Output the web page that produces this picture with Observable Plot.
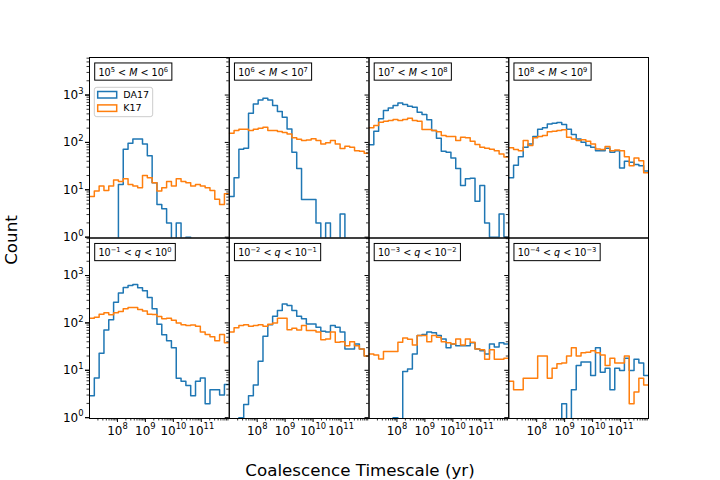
<!DOCTYPE html>
<html><head><meta charset="utf-8">
<script src="https://cdn.jsdelivr.net/npm/d3@7"></script>
<script src="https://cdn.jsdelivr.net/npm/@observablehq/plot@0.6"></script>
<style>
html,body{margin:0;padding:0;background:#fff;}
#chart{width:720px;height:480px;position:relative;}
</style></head><body><div id="chart"></div>
<script>
// ---- data ----
const panelLabels = ["10⁵ < M < 10⁶","10⁶ < M < 10⁷","10⁷ < M < 10⁸","10⁸ < M < 10⁹",
                     "10⁻¹ < q < 10⁰","10⁻² < q < 10⁻¹","10⁻³ < q < 10⁻²","10⁻⁴ < q < 10⁻³"];
const seriesNames = ["DA17","K17"];
const seriesColors = ["#1f77b4","#ff7f0e"];
const xLabel = "Coalescence Timescale (yr)";
const yLabel = "Count";
const yMajor = [1,10,100,1000];
const xMajor = [1e8,1e9,1e10,1e11];
const yMinor = [2,3,4,5,6,7,8,9,20,30,40,50,60,70,80,90,200,300,400,500,600,700,800,900,2000,3000,4000,5000,6000];
const xMinor = [2e7,3e7,4e7,5e7,6e7,7e7,8e7,9e7,2e8,3e8,4e8,5e8,6e8,7e8,8e8,9e8,2e9,3e9,4e9,5e9,6e9,7e9,8e9,9e9,
                2e10,3e10,4e10,5e10,6e10,7e10,8e10,9e10,2e11,3e11,4e11,5e11,6e11,7e11,8e11,9e11];
const logMin = 7, logMax = 12, nBins = 29;

// DA17 counts per bin
const da17_M5 = [0,0,0,0,0,0,13,72,96,118,118,93,52,14,4.9,4,2,0,2,0,1,0,0,0,0,0,0,0,0];
const da17_M6 = [7.2,18,72,75,413,650,790,855,790,600,450,340,193,62,28,6.2,6.2,6.2,2,0,2,0,0,3.1,0,0,0,0,0];
const da17_M7 = [89,172,315,470,535,600,680,630,580,550,433,388,300,178,122,65,62,47,28,12.3,17,17.6,5.7,12.3,2,1,1,3.1,1];
const da17_M8 = [18,33,50,79,93,133,190,203,246,254,263,238,190,147,118,101,86,79,67,67,75,62,67,29,40,38,34,32,25];
const da17_q1 = [2.9,6.9,23,71,116,274,430,557,615,645,550,475,343,198,94,56,42,30,6.8,5.9,4.8,2.9,5.9,6.9,1.96,3.9,3.9,3.0,5];
const da17_q2 = [0,0,1,1.9,2.9,4.9,15.6,52,91,138,182,252,233,182,138,122,95,95,81,67,64,88,81,64,28,28,36,28,20];
const da17_q3 = [0,0,0,0,0,1,0,9.4,10.7,22,54,57,64,62,54,46,30,36,33,33,33,38,28,26,22,36,31,38,36];
const da17_q4 = [0,0,0,0,0,0,0,0,0,0,0,1.96,0,3.9,12.6,14.9,14.9,7.8,30,9.1,11,3.9,11,9.9,18,9.9,17,14.3,7.8];
// K17 counts per bin
const k17_M5 = [7.2,9.4,12,9.7,12,16,15,17,13,12,11,20,18,14,9.4,11,15,12,17,15,14,12,13,12,11,9.7,6.3,4.9,8.2];
const k17_M6 = [156,178,190,190,178,190,200,209,178,178,170,161,151,125,117,110,113,119,110,93,98,110,93,74,83,79,67,65,59];
const k17_M7 = [203,227,268,280,290,303,290,303,324,290,280,187,187,178,167,140,133,133,110,129,125,106,90,79,75,72,67,57,49];
const k17_M8 = [77,71,67,110,86,125,133,140,167,172,178,184,129,118,110,114,106,93,73,71,82,67,69,67,50,32,47,41,23];
const k17_q1 = [126,132,152,163,148,163,174,198,211,211,191,179,152,150,136,122,126,114,100,92,88,90,85,64,57,51,42,57,38];
const k17_q2 = [64,79,88,91,85,88,91,85,94,100,126,126,72,77,71,88,69,69,64,44,46,64,39,40,33,40,33,28,20];
const k17_q3 = [22,21,17.4,25,25,25,39,48,45,34,54,54,40,54,50,40,38,36,46,34,46,39,28,27,17,27,17,17,18];
const k17_q4 = [5.9,3.9,3.9,6.8,6.8,6.8,20,20,6.8,11,13.7,14.3,20,30,20,23.4,24,26,23.4,21,12.6,18,14.3,14.3,20,1.96,3.5,6.8,4.9];

const da17 = [da17_M5,da17_M6,da17_M7,da17_M8,da17_q1,da17_q2,da17_q3,da17_q4];
const k17 = [k17_M5,k17_M6,k17_M7,k17_M8,k17_q1,k17_q2,k17_q3,k17_q4];

// ---- build table ----
const edges = d3.range(nBins + 1).map(k => Math.pow(10, logMin + (logMax - logMin) * k / nBins));
const FLOOR = 0.3; // empty bins drop below the axis
const rows = [];
[da17, k17].forEach((set, si) => set.forEach((vals, p) => {
  const col = p % 4, row = Math.floor(p / 4);
  vals.forEach((v, k) => rows.push({series: seriesNames[si], col, row, x: edges[k], y: v > 0 ? v : FLOOR}));
  const last = vals[vals.length - 1];
  rows.push({series: seriesNames[si], col, row, x: edges[vals.length], y: last > 0 ? last : FLOOR});
}));
const labelRows = panelLabels.map((label, p) => ({label, col: p % 4, row: Math.floor(p / 4)}));

const supMap = {"0":"⁰","1":"¹","2":"²","3":"³","4":"⁴","5":"⁵","6":"⁶","7":"⁷","8":"⁸","9":"⁹","-":"⁻"};
const supFormat = d => "10" + String(Math.round(Math.log10(d))).split("").map(c => supMap[c]).join("");
const blank = () => "";

const mL = 89, mR = 72, mT = 57, mB = 62, W = 720, H = 480;

const plot = Plot.plot({
  width: W, height: H,
  marginLeft: mL, marginRight: mR, marginTop: mT, marginBottom: mB,
  style: {fontFamily: "DejaVu Sans, sans-serif", fontSize: "11px", background: "#fff", color: "#000"},
  fx: {domain: [0,1,2,3], padding: 0, axis: null, round: false},
  fy: {domain: [0,1], padding: 0, axis: null, round: false},
  x: {type: "log", domain: [1e7, 1e12]},
  y: {type: "log", domain: [0.96, 6200]},
  color: {domain: seriesNames, range: seriesColors},
  marks: [
    Plot.line(rows, {x: "x", y: "y", z: "series", stroke: "series", fx: "col", fy: "row",
                     curve: "step-after", strokeWidth: 1.5, clip: true}),
    Plot.frame({stroke: "#000", strokeWidth: 1}),
    Plot.axisY(yMinor, {facetAnchor: null, tickSize: 2.5, tickFormat: blank, label: null, strokeWidth: 0.8}),
    Plot.axisY(yMajor, {facetAnchor: null, tickSize: 4, tickFormat: blank, label: null}),
    Plot.axisY(yMajor, {tickSize: 4, tickPadding: 2, tickFormat: supFormat, label: null, fontSize: 12}),
    Plot.axisX(xMinor, {tickSize: 2.5, tickFormat: blank, label: null, strokeWidth: 0.8}),
    Plot.axisX(xMajor, {tickSize: 4, tickPadding: 3.5, tickFormat: supFormat, label: null, fontSize: 12}),
    Plot.text(labelRows, {fx: "col", fy: "row", text: "label", frameAnchor: "top-left", dx: 9, dy: 15,
                          lineAnchor: "middle", textAnchor: "start", fontSize: 9.6})
  ]
});
document.getElementById("chart").appendChild(plot);

const svg = d3.select(plot);
const supBack = {"⁰":"0","¹":"1","²":"2","³":"3","⁴":"4","⁵":"5","⁶":"6","⁷":"7","⁸":"8","⁹":"9","⁻":"−"};
const isSup = c => c in supBack;
const labelSet = new Set(panelLabels);
const labelEls = [];

// rebuild texts containing superscripts as raised, smaller tspans (and italic variables)
svg.selectAll("text").each(function() {
  const el = this, s = el.textContent;
  if (!s || ![...s].some(isSup)) return;
  if (labelSet.has(s)) labelEls.push(el);
  const fs = parseFloat(getComputedStyle(el).fontSize);
  const rise = fs * 0.42;
  const runs = [];
  for (const c of s) {
    const sup = isSup(c);
    if (runs.length && runs[runs.length - 1].sup === sup) runs[runs.length - 1].t += sup ? supBack[c] : c;
    else runs.push({sup, t: sup ? supBack[c] : c});
  }
  const t = d3.select(el);
  t.text(null);
  let raised = false;
  runs.forEach(run => {
    if (run.sup) {
      t.append("tspan").attr("font-size", fs * 0.7).attr("dy", raised ? 0 : -rise).text(run.t);
      raised = true;
    } else {
      run.t.split(/([Mq])/).forEach(part => {
        if (!part) return;
        const ts = t.append("tspan").text(part);
        if (raised) { ts.attr("dy", rise); raised = false; }
        if (part === "M" || part === "q") ts.attr("font-style", "italic");
      });
    }
  });
});

// boxes around panel labels
labelEls.forEach(el => {
  const t = d3.select(el);
  const b = el.getBBox();
  const r = document.createElementNS("http://www.w3.org/2000/svg", "rect");
  el.parentNode.insertBefore(r, el);
  const cy = b.y + b.height / 2;
  d3.select(r)
    .attr("x", b.x - 3.8).attr("y", cy - 8.6)
    .attr("width", b.width + 7.6).attr("height", 17.2)
    .attr("fill", "#fff").attr("stroke", "#000").attr("stroke-width", 1);
  if (t.attr("transform")) d3.select(r).attr("transform", t.attr("transform"));
});

// legend in first panel
const lg = svg.append("g").attr("font-size", 9.5).attr("font-family", "DejaVu Sans, sans-serif")
  .attr("text-anchor", "start");
lg.append("rect").attr("x", mL + 5.3).attr("y", mT + 30.3).attr("width", 58.4).attr("height", 29.4)
  .attr("rx", 2.5).attr("fill", "#fff").attr("fill-opacity", 0.8).attr("stroke", "#ccc").attr("stroke-width", 1);
seriesNames.forEach((name, i) => {
  const cy = mT + 37.7 + i * 13.4;
  lg.append("rect").attr("x", mL + 8.7).attr("y", cy - 3.2).attr("width", 19).attr("height", 6.5)
    .attr("fill", "none").attr("stroke", seriesColors[i]).attr("stroke-width", 1.5);
  lg.append("text").attr("x", mL + 34.3).attr("y", cy).attr("dy", "0.35em").attr("text-anchor", "start").text(name);
});

// axis titles
svg.append("text").attr("x", 360).attr("y", 476).attr("text-anchor", "middle")
  .attr("font-size", 16.7).attr("font-family", "DejaVu Sans, sans-serif").text(xLabel);
svg.append("text").attr("transform", "translate(17.3,240) rotate(-90)").attr("text-anchor", "middle")
  .attr("font-size", 16.7).attr("font-family", "DejaVu Sans, sans-serif").text(yLabel);
</script>
</body></html>
